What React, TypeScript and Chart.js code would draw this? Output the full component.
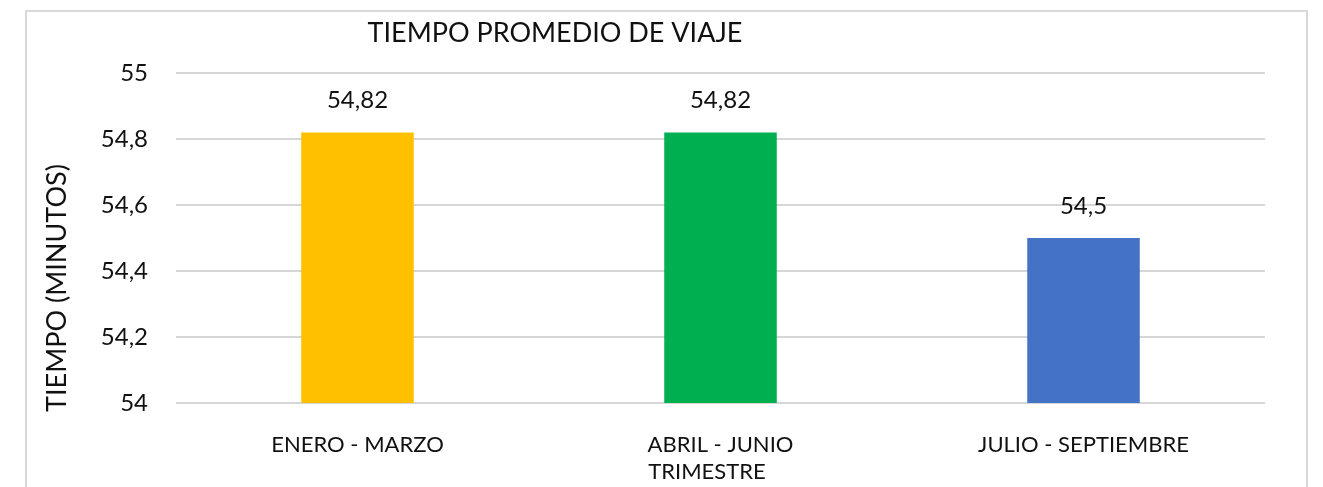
import React, { useEffect, useRef } from "react";
import { Chart, registerables } from "chart.js";

Chart.register(...registerables);

const chartTitle = "TIEMPO PROMEDIO DE VIAJE";
const xAxisTitle = "TRIMESTRE";
const yAxisTitle = "TIEMPO (MINUTOS)";
const categories = ["ENERO - MARZO", "ABRIL - JUNIO", "JULIO - SEPTIEMBRE"];
const values = [54.82, 54.82, 54.5];
const barColors = ["#FFC000", "#00B050", "#4472C4"];
const yMin = 54;
const yMax = 55;
const yStep = 0.2;

const FONT = "Lato, 'Open Sans', sans-serif";
const TEXT = "#111111";

const fmt = (v: number) => String(Number(v.toFixed(2))).replace(".", ",");

const decor = {
  id: "decor",
  beforeDraw(chart: any) {
    const { ctx, width, height } = chart;
    ctx.save();
    ctx.fillStyle = "#ffffff";
    ctx.fillRect(0, 0, width, height);
    ctx.strokeStyle = "#d9d9d9";
    ctx.lineWidth = 2;
    ctx.strokeRect(26, 11, 1281, height + 20);
    ctx.restore();
  },
  afterDatasetsDraw(chart: any) {
    const { ctx } = chart;
    const meta = chart.getDatasetMeta(0);
    ctx.save();
    ctx.fillStyle = TEXT;
    ctx.font = `24px ${FONT}`;
    ctx.textAlign = "center";
    ctx.textBaseline = "middle";
    meta.data.forEach((bar: any, i: number) => {
      ctx.fillText(fmt(values[i]), bar.x, bar.y - 32);
    });
    ctx.restore();
  },
  afterDraw(chart: any) {
    const { ctx } = chart;
    ctx.save();
    ctx.fillStyle = TEXT;
    ctx.textAlign = "center";
    ctx.textBaseline = "middle";
    ctx.font = `27px ${FONT}`;
    ctx.fillText(chartTitle, 555, 33);
    ctx.font = `22px ${FONT}`;
    ctx.fillText(xAxisTitle, 707, 472);
    ctx.translate(57, 288);
    ctx.rotate(-Math.PI / 2);
    ctx.font = `27px ${FONT}`;
    ctx.fillText(yAxisTitle, 0, 0);
    ctx.restore();
  },
};

export default function App() {
  const ref = useRef<HTMLCanvasElement | null>(null);
  useEffect(() => {
    if (!ref.current) return;
    const chart = new Chart(ref.current, {
      type: "bar",
      data: {
        labels: categories,
        datasets: [
          {
            data: values,
            backgroundColor: barColors,
            borderWidth: 0,
            barPercentage: 0.31,
            categoryPercentage: 1,
          },
        ],
      },
      options: {
        responsive: false,
        animation: false,
        layout: { padding: { left: 0, right: 58, top: 73, bottom: 0 } },
        plugins: {
          legend: { display: false },
          title: { display: false },
          tooltip: { enabled: false },
        },
        scales: {
          x: {
            grid: { display: false },
            border: { display: false },
            ticks: {
              color: TEXT,
              font: { family: FONT, size: 22 },
              padding: 21,
              maxRotation: 0,
            },
            afterFit: (s: any) => {
              s.height = 84;
            },
          },
          y: {
            min: yMin,
            max: yMax,
            border: { display: false },
            grid: { color: "#d6d6d6", lineWidth: 2, drawTicks: false },
            ticks: {
              stepSize: yStep,
              color: TEXT,
              font: { family: FONT, size: 24 },
              padding: 28,
              callback: (v: any) => fmt(Number(v)),
            },
            afterFit: (s: any) => {
              s.width = 176;
            },
          },
        },
      },
      plugins: [decor],
    });
    return () => chart.destroy();
  }, []);
  return (
    <canvas
      ref={ref}
      width={1323}
      height={487}
      style={{ position: "absolute", left: 0, top: 0, display: "block" }}
    />
  );
}
